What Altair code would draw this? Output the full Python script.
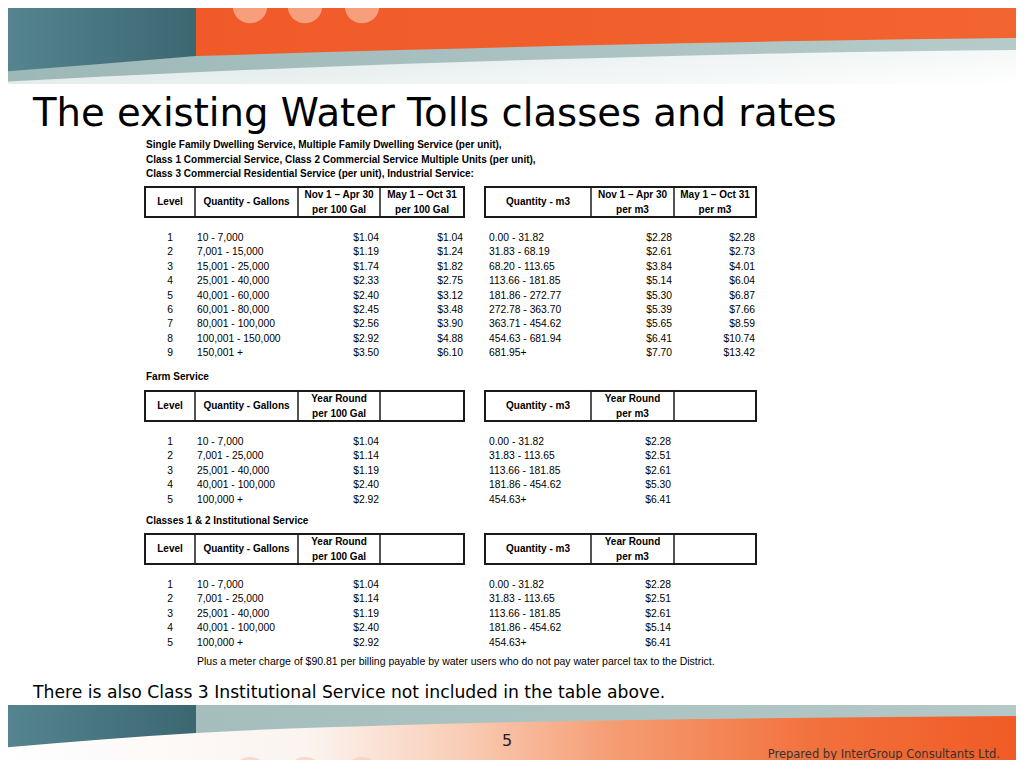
import altair as alt
import pandas as pd

# ---------------- text content ----------------
TITLE = "The existing Water Tolls classes and rates"
INTRO = [
    "Single Family Dwelling Service, Multiple Family Dwelling Service (per unit),",
    "Class 1 Commercial Service, Class 2 Commercial Service Multiple Units (per unit),",
    "Class 3 Commercial Residential Service (per unit), Industrial Service:",
]
SECTION_FARM = "Farm Service"
SECTION_INST = "Classes 1 & 2 Institutional Service"
NOTE = "Plus a meter charge of $90.81 per billing payable by water users who do not pay water parcel tax to the District."
FOOTNOTE = "There is also Class 3 Institutional Service not included in the table above."
PAGE = "5"
CREDIT = "Prepared by InterGroup Consultants Ltd."

HDR_GAL_SEASONAL = [["Level"], ["Quantity - Gallons"], ["Nov 1 \u2013 Apr 30", "per 100 Gal"], ["May 1 \u2013 Oct 31", "per 100 Gal"]]
HDR_M3_SEASONAL = [["Quantity - m3"], ["Nov 1 \u2013 Apr 30", "per m3"], ["May 1 \u2013 Oct 31", "per m3"]]
HDR_GAL_YEAR = [["Level"], ["Quantity - Gallons"], ["Year Round", "per 100 Gal"], []]
HDR_M3_YEAR = [["Quantity - m3"], ["Year Round", "per m3"], []]

# ---------------- table data ----------------
res_levels = [1, 2, 3, 4, 5, 6, 7, 8, 9]
res_gallons = ["10 - 7,000", "7,001 - 15,000", "15,001 - 25,000", "25,001 - 40,000", "40,001 - 60,000",
               "60,001 - 80,000", "80,001 - 100,000", "100,001 - 150,000", "150,001 +"]
res_winter_gal = [1.04, 1.19, 1.74, 2.33, 2.40, 2.45, 2.56, 2.92, 3.50]
res_summer_gal = [1.04, 1.24, 1.82, 2.75, 3.12, 3.48, 3.90, 4.88, 6.10]
res_m3 = ["0.00 - 31.82", "31.83 - 68.19", "68.20 - 113.65", "113.66 - 181.85", "181.86 - 272.77",
          "272.78 - 363.70", "363.71 - 454.62", "454.63 - 681.94", "681.95+"]
res_winter_m3 = [2.28, 2.61, 3.84, 5.14, 5.30, 5.39, 5.65, 6.41, 7.70]
res_summer_m3 = [2.28, 2.73, 4.01, 6.04, 6.87, 7.66, 8.59, 10.74, 13.42]

farm_levels = [1, 2, 3, 4, 5]
farm_gallons = ["10 - 7,000", "7,001 - 25,000", "25,001 - 40,000", "40,001 - 100,000", "100,000 +"]
farm_rate_gal = [1.04, 1.14, 1.19, 2.40, 2.92]
farm_m3 = ["0.00 - 31.82", "31.83 - 113.65", "113.66 - 181.85", "181.86 - 454.62", "454.63+"]
farm_rate_m3 = [2.28, 2.51, 2.61, 5.30, 6.41]

inst_levels = [1, 2, 3, 4, 5]
inst_gallons = ["10 - 7,000", "7,001 - 25,000", "25,001 - 40,000", "40,001 - 100,000", "100,000 +"]
inst_rate_gal = [1.04, 1.14, 1.19, 2.40, 2.92]
inst_m3 = ["0.00 - 31.82", "31.83 - 113.65", "113.66 - 181.85", "181.86 - 454.62", "454.63+"]
inst_rate_m3 = [2.28, 2.51, 2.61, 5.14, 6.41]

# ---------------- layout ----------------
FONT = "Liberation Sans Narrow, Liberation Sans, Arial, sans-serif"
SLIDE_FONT = "DejaVu Sans, Verdana, sans-serif"

X0, X1, Y0, Y1 = 8, 1016, 8, 760
W, H = X1 - X0, Y1 - Y0
XS = alt.Scale(domain=[X0, X1], range=[0, W], nice=False, zero=False)
YS = alt.Scale(domain=[Y0, Y1], range=[0, H], nice=False, zero=False)


def ex(f):
    return alt.X(f"{f}:Q", scale=XS, axis=None)


def ey(f):
    return alt.Y(f"{f}:Q", scale=YS, axis=None)


def texts(rows, size, weight="normal", align="left", font=FONT, color="#000000"):
    df = pd.DataFrame(rows, columns=["x", "y", "t"])
    return alt.Chart(df).mark_text(
        align=align, baseline="middle", fontSize=size, fontWeight=weight, font=font, color=color
    ).encode(x=ex("x"), y=ey("y"), text="t:N")


def grad(stops, x2=1, y2=0):
    return alt.Gradient(
        gradient="linear",
        stops=[alt.GradientStop(offset=o, color=c) for o, c in stops],
        x1=0, y1=0, x2=x2, y2=y2,
    )


def area(xs, tops, bots, fill, interp="monotone"):
    df = pd.DataFrame({"x": xs, "top": tops, "bot": bots})
    return alt.Chart(df).mark_area(color=fill, interpolate=interp).encode(
        x=ex("x"), y=ey("top"), y2=alt.Y2("bot")
    )


def rect(x, x2, y, y2, fill):
    df = pd.DataFrame({"x": [x], "x2": [x2], "y": [y], "y2": [y2]})
    return alt.Chart(df).mark_rect(color=fill).encode(
        x=ex("x"), x2=alt.X2("x2"), y=ey("y"), y2=alt.Y2("y2")
    )


def circles(xs, y, size, fill, opacity=1.0):
    df = pd.DataFrame({"x": xs, "y": [y] * len(xs)})
    return alt.Chart(df).mark_point(
        shape="circle", filled=True, size=size, color=fill, opacity=opacity, strokeWidth=0
    ).encode(x=ex("x"), y=ey("y"))


layers = []

# ---------- header decoration ----------
layers.append(rect(0, 1024, -10, 84, grad([(0, "#c2d2d1"), (0.5, "#e4ecec"), (1, "#ffffff")], x2=1, y2=1)))
layers.append(area([0, 200, 400, 600, 800, 1024], [-10] * 6, [82, 72, 64, 58, 53, 50],
                   grad([(0, "#9cb8b7"), (1, "#b6cbca")])))
layers.append(area([196, 400, 600, 800, 1024], [-10] * 5, [56, 50, 45, 41, 38],
                   grad([(0, "#f05a28"), (1, "#f26430")])))
layers.append(area([0, 100, 196], [-10] * 3, [72, 64, 56],
                   grad([(0, "#568690"), (1, "#3b6771")]), interp="linear"))
layers.append(circles([250, 305, 362], 6, 1200, "#f7a585", 0.9))

# ---------- footer decoration ----------
layers.append(rect(0, 1024, 705, 780, grad([(0, "#a2bcbb"), (1, "#b3c8c7")])))
layers.append(rect(0, 196, 705, 780, grad([(0, "#568690"), (1, "#3b6771")])))
layers.append(area([0, 196, 400, 700, 1024], [748, 733, 725, 719, 716], [780] * 5,
                   grad([(0, "#ffffff"), (0.3, "#fbf4f0"), (0.45, "#f9cdb6"), (0.6, "#f59c72"),
                         (0.8, "#f2703c"), (1, "#f05a24")])))
layers.append(circles([250, 305, 362], 775, 1300, "#f7cdb9", 0.7))

# ---------- slide texts ----------
layers.append(texts([(33, 114, TITLE)], 38.6, font=SLIDE_FONT))
layers.append(texts([(33, 693, FOOTNOTE)], 17.2, font=SLIDE_FONT))
layers.append(texts([(507, 741, PAGE)], 16, align="center", font=SLIDE_FONT, color="#222222"))
layers.append(texts([(1000, 755, CREDIT)], 11.5, align="right", font=SLIDE_FONT, color="#333333"))

# ---------- tables ----------
LEFT_EDGES = [145, 195, 298, 380, 464]
RIGHT_EDGES = [485, 591, 674, 756]
STEP = 14.4
SZ_BOLD = 10
SZ_BODY = 10.3

box_rows, div_rows, hdr_rows = [], [], []
bold_rows = [(146, 145 + i * 14.5, line) for i, line in enumerate(INTRO)]
bold_rows += [(146, 377, SECTION_FARM), (146, 521, SECTION_INST)]
left_rows, center_rows, right_rows = [], [], []


def add_header(top, edges, headers):
    box_rows.append((edges[0], edges[-1], top, top + 30))
    for e in edges[1:-1]:
        div_rows.append((e, top, top + 30))
    for i, lines in enumerate(headers):
        cx = (edges[i] + edges[i + 1]) / 2
        if len(lines) == 1:
            hdr_rows.append((cx, top + 15, lines[0]))
        elif len(lines) == 2:
            hdr_rows.append((cx, top + 8, lines[0]))
            hdr_rows.append((cx, top + 23, lines[1]))


def money(v):
    return f"${v:.2f}"


# table 1 : residential / commercial
add_header(187, LEFT_EDGES, HDR_GAL_SEASONAL)
add_header(187, RIGHT_EDGES, HDR_M3_SEASONAL)
for i in range(len(res_levels)):
    y = 238 + i * STEP
    center_rows.append((170, y, str(res_levels[i])))
    left_rows.append((197, y, res_gallons[i]))
    right_rows.append((379, y, money(res_winter_gal[i])))
    right_rows.append((463, y, money(res_summer_gal[i])))
    left_rows.append((489, y, res_m3[i]))
    right_rows.append((672, y, money(res_winter_m3[i])))
    right_rows.append((755, y, money(res_summer_m3[i])))

# table 2 : farm
add_header(391, LEFT_EDGES, HDR_GAL_YEAR)
add_header(391, RIGHT_EDGES, HDR_M3_YEAR)
for i in range(len(farm_levels)):
    y = 442 + i * STEP
    center_rows.append((170, y, str(farm_levels[i])))
    left_rows.append((197, y, farm_gallons[i]))
    right_rows.append((379, y, money(farm_rate_gal[i])))
    left_rows.append((489, y, farm_m3[i]))
    right_rows.append((671, y, money(farm_rate_m3[i])))

# table 3 : institutional
add_header(534, LEFT_EDGES, HDR_GAL_YEAR)
add_header(534, RIGHT_EDGES, HDR_M3_YEAR)
for i in range(len(inst_levels)):
    y = 585 + i * STEP
    center_rows.append((170, y, str(inst_levels[i])))
    left_rows.append((197, y, inst_gallons[i]))
    right_rows.append((379, y, money(inst_rate_gal[i])))
    left_rows.append((489, y, inst_m3[i]))
    right_rows.append((671, y, money(inst_rate_m3[i])))

boxes = pd.DataFrame(box_rows, columns=["x", "x2", "y", "y2"])
layers.append(alt.Chart(boxes).mark_rect(fillOpacity=0, stroke="#1a1a1a", strokeWidth=2).encode(
    x=ex("x"), x2=alt.X2("x2"), y=ey("y"), y2=alt.Y2("y2")))
divs = pd.DataFrame(div_rows, columns=["x", "y", "y2"])
layers.append(alt.Chart(divs).mark_rule(color="#1a1a1a", strokeWidth=1.5).encode(
    x=ex("x"), y=ey("y"), y2=alt.Y2("y2")))

layers.append(texts(hdr_rows, SZ_BOLD, weight="bold", align="center"))
layers.append(texts(bold_rows, SZ_BOLD, weight="bold"))
layers.append(texts(center_rows, SZ_BODY, align="center"))
layers.append(texts(left_rows, SZ_BODY))
layers.append(texts(right_rows, SZ_BODY, align="right"))
layers.append(texts([(197, 662, NOTE)], 10.5))

chart = alt.layer(*layers).properties(
    width=W, height=H, padding=0, autosize="none", background="#ffffff"
).configure_view(strokeWidth=0)

chart.save("out.html", embed_options={"renderer": "svg", "actions": False})
